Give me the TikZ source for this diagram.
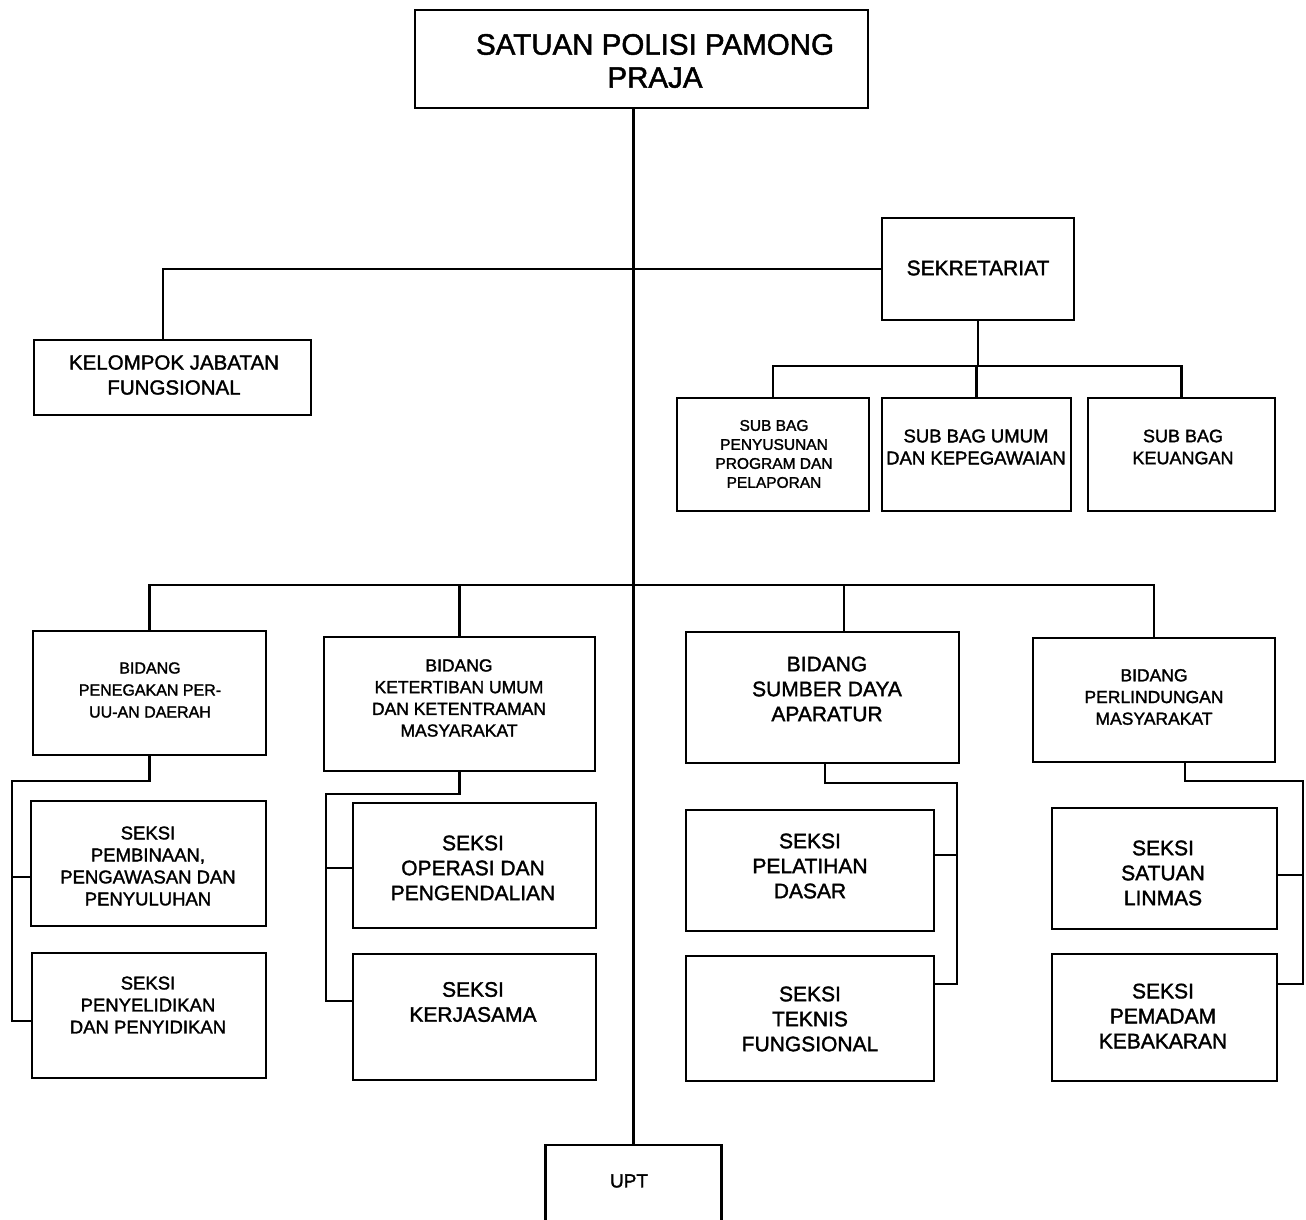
\documentclass[tikz,border=0pt]{standalone}
\usepackage{fontspec}
\setmainfont{Liberation Sans}[FakeBold=1.6]
\begin{document}
\begin{tikzpicture}[x=1pt,y=-1pt,
  box/.style={draw=black,line width=2.4pt,inner sep=0pt,rectangle},
  txt/.style={inner sep=0pt,align=center,text=black},
  con/.style={draw=black,line width=2.4pt},
  fA/.style={font=\fontsize{29.5}{33}\selectfont},
  fB/.style={font=\fontsize{21}{25}\selectfont},
  fC/.style={font=\fontsize{20.5}{25}\selectfont},
  fD/.style={font=\fontsize{15.5}{19}\selectfont},
  fE/.style={font=\fontsize{18}{22}\selectfont},
  fF/.style={font=\fontsize{16}{22}\selectfont},
  fG/.style={font=\fontsize{17.5}{21.7}\selectfont},
  fH/.style={font=\fontsize{18.5}{22}\selectfont},
  fU/.style={font=\fontsize{19}{22}\selectfont}]
\useasboundingbox[fill=white] (0,0) rectangle (1306,1220);
\begin{scope}
\clip (0,0) rectangle (1306,1220);
% boxes
\node[box,minimum width=453,minimum height=98] (top) at (641.5,59) {};
\node[box,minimum width=192,minimum height=102] (sek) at (978,269) {};
\node[box,minimum width=277,minimum height=75] (kel) at (172.5,377.5) {};
\node[box,minimum width=192,minimum height=113] (sb1) at (773,454.5) {};
\node[box,minimum width=189,minimum height=113] (sb2) at (976.5,454.5) {};
\node[box,minimum width=187,minimum height=113] (sb3) at (1181.5,454.5) {};
\node[box,minimum width=233,minimum height=124] (b1) at (149.5,693) {};
\node[box,minimum width=271,minimum height=134] (b2) at (459.5,704) {};
\node[box,minimum width=273,minimum height=131] (b3) at (822.5,697.5) {};
\node[box,minimum width=242,minimum height=124] (b4) at (1154,700) {};
\node[box,minimum width=235,minimum height=125] (s1a) at (148.5,863.5) {};
\node[box,minimum width=234,minimum height=125] (s1b) at (149,1015.5) {};
\node[box,minimum width=243,minimum height=125] (s2a) at (474.5,865.5) {};
\node[box,minimum width=243,minimum height=126] (s2b) at (474.5,1017) {};
\node[box,minimum width=248,minimum height=121] (s3a) at (810,870.5) {};
\node[box,minimum width=248,minimum height=125] (s3b) at (810,1018.5) {};
\node[box,minimum width=225,minimum height=121] (s4a) at (1164.5,868.5) {};
\node[box,minimum width=225,minimum height=127] (s4b) at (1164.5,1017.5) {};
\node[box,minimum width=176,minimum height=95] (upt) at (633.5,1192.5) {};
% texts
\node[txt,fA] (top-t) at (655,61) {SATUAN POLISI PAMONG\\PRAJA};
\node[txt,fB] (sek-t) at (978,268) {SEKRETARIAT};
\node[txt,fC] (kel-t) at (174,375) {KELOMPOK JABATAN\\FUNGSIONAL};
\node[txt,fD] (sb1-t) at (774,454) {SUB BAG\\PENYUSUNAN\\PROGRAM DAN\\PELAPORAN};
\node[txt,fH] (sb2-t) at (976,447) {SUB BAG UMUM\\DAN KEPEGAWAIAN};
\node[txt,fE] (sb3-t) at (1183,447) {SUB BAG\\KEUANGAN};
\node[txt,fF] (b1-t) at (150,690) {BIDANG\\PENEGAKAN PER-\\UU-AN DAERAH};
\node[txt,fG] (b2-t) at (459,698) {BIDANG\\KETERTIBAN UMUM\\DAN KETENTRAMAN\\MASYARAKAT};
\node[txt,fB] (b3-t) at (827,689) {BIDANG\\SUMBER DAYA\\APARATUR};
\node[txt,fG] (b4-t) at (1154,697) {BIDANG\\PERLINDUNGAN\\MASYARAKAT};
\node[txt,fH] (s1a-t) at (148,866) {SEKSI\\PEMBINAAN,\\PENGAWASAN DAN\\PENYULUHAN};
\node[txt,fH] (s1b-t) at (148,1005) {SEKSI\\PENYELIDIKAN\\DAN PENYIDIKAN};
\node[txt,fB] (s2a-t) at (473,868) {SEKSI\\OPERASI DAN\\PENGENDALIAN};
\node[txt,fB] (s2b-t) at (473,1002) {SEKSI\\KERJASAMA};
\node[txt,fB] (s3a-t) at (810,866) {SEKSI\\PELATIHAN\\DASAR};
\node[txt,fB] (s3b-t) at (810,1019) {SEKSI\\TEKNIS\\FUNGSIONAL};
\node[txt,fB] (s4a-t) at (1163,873) {SEKSI\\SATUAN\\LINMAS};
\node[txt,fB] (s4b-t) at (1163,1016) {SEKSI\\PEMADAM\\KEBAKARAN};
\node[txt,fU] (upt-t) at (629,1181) {UPT};
% junction coordinates
\coordinate (sbus) at (978,366);
\coordinate (bbus) at (634,585);
\coordinate (c1) at (12,781);
\coordinate (c2) at (326,794);
\coordinate (c3) at (957,783);
\coordinate (c4) at (1303,781);
\coordinate (s1a-in) at ([yshift=-13.5pt]s1a.west);
\coordinate (s1b-in) at ([yshift=-5.5pt]s1b.west);
\coordinate (s2a-in) at ([yshift=-2.5pt]s2a.west);
\coordinate (s2b-in) at ([yshift=16pt]s2b.west);
\coordinate (s3a-in) at ([yshift=15.5pt]s3a.east);
\coordinate (s3b-in) at ([yshift=34.5pt]s3b.east);
\coordinate (s4a-in) at ([yshift=-6.5pt]s4a.east);
\coordinate (s4b-in) at ([yshift=33.5pt]s4b.east);
\coordinate (b3-top) at ([xshift=21.5pt]b3.north);
\coordinate (b3-bot) at ([xshift=2.5pt]b3.south);
\coordinate (b4-bot) at ([xshift=31pt]b4.south);
\coordinate (kel-top) at ([xshift=-9.5pt]kel.north);
% connectors
\draw[con] (top.south -| upt.north) -- (upt.north);
\draw[con] (sek.west) -| (kel-top);
\draw[con] (sek.south) -- (sbus);
\draw[con] (sb1.north) |- (sbus) -| (sb3.north);
\draw[con] (sb2.north) -- (sb2.north |- sbus);
\draw[con] (b1.north) |- (bbus) -| (b4.north);
\draw[con] (b2.north) -- (b2.north |- bbus);
\draw[con] (b3-top) -- (b3-top |- bbus);
\draw[con] (b1.south) |- (c1) |- (s1b-in);
\draw[con] (s1a-in) -- (s1a-in -| c1);
\draw[con] (b2.south) |- (c2) |- (s2b-in);
\draw[con] (s2a-in) -- (s2a-in -| c2);
\draw[con] (b3-bot) |- (c3) |- (s3b-in);
\draw[con] (s3a-in) -- (s3a-in -| c3);
\draw[con] (b4-bot) |- (c4) |- (s4b-in);
\draw[con] (s4a-in) -- (s4a-in -| c4);
\end{scope}
\end{tikzpicture}
\end{document}
